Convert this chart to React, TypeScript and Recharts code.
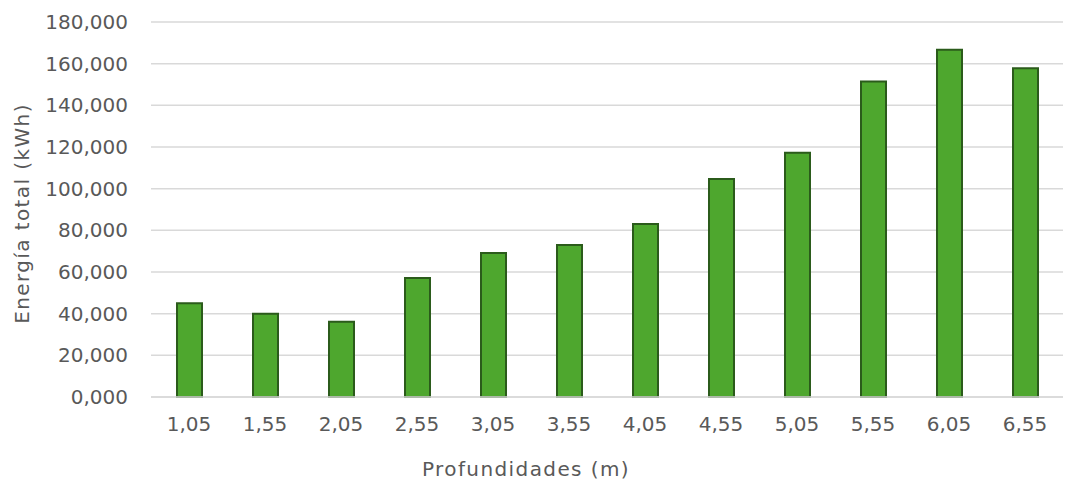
import React from 'react';
import { BarChart, Bar, XAxis, YAxis, CartesianGrid } from 'recharts';

const depths = ['1,05', '1,55', '2,05', '2,55', '3,05', '3,55', '4,05', '4,55', '5,05', '5,55', '6,05', '6,55'];
const energy = [45000, 40000, 36100, 57100, 69100, 73000, 83000, 104700, 117300, 151400, 166700, 157800];
const yTicks = [0, 20000, 40000, 60000, 80000, 100000, 120000, 140000, 160000, 180000];

const FONT = '"DejaVu Sans", sans-serif';
const TEXT = '#595959';
const GRID = '#d9d9d9';

const fmt = (v: number) => (v === 0 ? '0,000' : v.toLocaleString('en-US'));

function YLabel({ viewBox }: any) {
  const cx = 22;
  const cy = viewBox.y + viewBox.height / 2 + 4;
  return (
    <text x={cx} y={cy} transform={`rotate(-90 ${cx} ${cy})`} textAnchor="middle" dominantBaseline="central"
      fill={TEXT} fontSize={20} letterSpacing={1.4} fontFamily={FONT}>
      Energía total (kWh)
    </text>
  );
}

function XLabel({ viewBox }: any) {
  return (
    <text x={526} y={viewBox.y + 72} textAnchor="middle" dominantBaseline="central"
      fill={TEXT} fontSize={20} letterSpacing={1.4} fontFamily={FONT}>
      Profundidades (m)
    </text>
  );
}

export default function App() {
  const data = depths.map((d, i) => ({ depth: d, energy: energy[i] }));
  return (
    <div style={{ position: 'absolute', left: 0, top: 0, background: '#fff' }}>
      <BarChart width={1065} height={482} data={data} margin={{ top: 22, right: 2, left: 0, bottom: 0 }} barSize={25}>
        <CartesianGrid vertical={false} stroke={GRID} strokeWidth={1.5} />
        <XAxis
          dataKey="depth"
          height={85}
          axisLine={{ stroke: GRID, strokeWidth: 1.5 }}
          tickLine={false}
          tickSize={0}
          tickMargin={20}
          tick={{ fill: TEXT, fontSize: 20, fontFamily: FONT }}
          label={<XLabel />}
        />
        <YAxis
          width={151}
          domain={[0, 180000]}
          ticks={yTicks}
          tickFormatter={fmt}
          axisLine={false}
          tickLine={false}
          tickSize={0}
          tickMargin={23}
          tick={{ fill: TEXT, fontSize: 20, fontFamily: FONT }}
          label={<YLabel />}
        />
        <Bar dataKey="energy" fill="#4ea72e" stroke="#2b5b1b" strokeWidth={2} isAnimationActive={false} />
      </BarChart>
    </div>
  );
}
